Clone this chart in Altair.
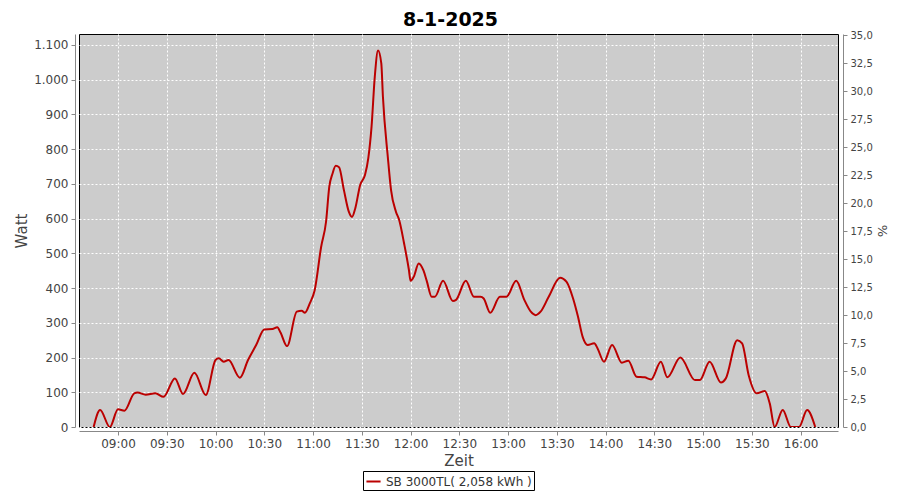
import altair as alt
import pandas as pd

title_text = "8-1-2025"
series_name = "SB 3000TL( 2,058 kWh )"

times = ["08:45", "08:49", "08:55", "09:00", "09:04", "09:10", "09:12", "09:17", "09:23", "09:28",
         "09:35", "09:40", "09:47", "09:54", "10:00", "10:02", "10:05", "10:08", "10:15", "10:20",
         "10:25", "10:30", "10:35", "10:38", "10:40", "10:44", "10:50", "10:53", "10:55", "10:58",
         "11:01", "11:05", "11:08", "11:10", "11:12", "11:14", "11:16", "11:19", "11:22", "11:24",
         "11:26", "11:29", "11:32", "11:34", "11:36", "11:38", "11:40", "11:42", "11:43", "11:46",
         "11:48", "11:51", "11:53", "11:56", "11:59", "12:00", "12:02", "12:05", "12:08", "12:10",
         "12:13", "12:15", "12:20", "12:26", "12:28", "12:34", "12:39", "12:43", "12:45", "12:49",
         "12:55", "12:59", "13:05", "13:10", "13:14", "13:17", "13:20", "13:25", "13:32", "13:36",
         "13:40", "13:43", "13:46", "13:49", "13:53", "13:55", "13:59", "14:04", "14:10", "14:14",
         "14:19", "14:24", "14:28", "14:34", "14:38", "14:46", "14:55", "14:58", "15:04", "15:11",
         "15:14", "15:21", "15:24", "15:28", "15:33", "15:38", "15:41", "15:44", "15:49", "15:54",
         "15:59", "16:04", "16:09"]
watts = [0, 49, 0, 51, 47, 97, 99, 93, 97, 87,
         140, 95, 156, 92, 193, 198, 188, 193, 142, 193,
         236, 281, 282, 287, 272, 233, 332, 335, 329, 356,
         394, 519, 591, 692, 730, 752, 748, 682, 620, 605,
         630, 697, 726, 774, 865, 1009, 1084, 1047, 951, 778,
         682, 620, 596, 529, 452, 421, 433, 471, 450, 420,
         375, 375, 421, 363, 366, 421, 375, 375, 370, 329,
         375, 375, 421, 366, 332, 322, 332, 375, 430, 418,
         370, 318, 258, 236, 241, 227, 188, 236, 185, 191,
         145, 143, 137, 188, 143, 200, 135, 135, 188, 128,
         140, 250, 241, 150, 97, 104, 68, 0, 49, 0,
         0, 49, 0]

x_tick_hours = [(9, 0), (9, 30), (10, 0), (10, 30), (11, 0), (11, 30), (12, 0), (12, 30),
                (13, 0), (13, 30), (14, 0), (14, 30), (15, 0), (15, 30), (16, 0)]
watt_ticks = [0, 100, 200, 300, 400, 500, 600, 700, 800, 900, 1000, 1100]
pct_ticks = [0, 2.5, 5, 7.5, 10, 12.5, 15, 17.5, 20, 22.5, 25, 27.5, 30, 32.5, 35]

df = pd.DataFrame({
    "time": ["2025-01-08T" + t + ":00" for t in times],
    "watt": watts,
    "series": series_name,
})
pct_df = pd.DataFrame({"pct": [0, 35]})


def dt(h, m):
    return alt.DateTime(year=2025, month=1, date=8, hours=h, minutes=m)


FONT = "DejaVu Sans"
LABEL_COLOR = "#444444"
AXIS_COLOR = "#888888"

x_axis = alt.Axis(
    title="Zeit", format="%H:%M", values=[dt(h, m) for h, m in x_tick_hours],
    grid=True, gridColor="white", gridDash=[2, 2], gridWidth=1,
    domainColor=AXIS_COLOR, tickColor=AXIS_COLOR, tickSize=4, offset=4,
    labelFont=FONT, labelFontSize=12, labelColor=LABEL_COLOR, labelPadding=3,
    titleFont=FONT, titleFontSize=15, titleFontWeight="normal", titleColor=LABEL_COLOR,
    titlePadding=4,
)

y_axis = alt.Axis(
    title="Watt", values=watt_ticks,
    labelExpr="replace(format(datum.value, ','), ',', '.')",
    grid=True, gridColor="white", gridDash=[2, 2], gridWidth=1,
    domainColor=AXIS_COLOR, tickColor=AXIS_COLOR, tickSize=4, offset=4,
    labelFont=FONT, labelFontSize=12, labelColor=LABEL_COLOR, labelPadding=3,
    titleFont=FONT, titleFontSize=15, titleFontWeight="normal", titleColor=LABEL_COLOR,
    titlePadding=4,
)

line = alt.Chart(df).mark_line(strokeWidth=2, interpolate="monotone", clip=True).encode(
    x=alt.X("time:T", axis=x_axis, scale=alt.Scale(domain=[dt(8, 36), dt(16, 23)])),
    y=alt.Y("watt:Q", axis=y_axis, scale=alt.Scale(domain=[0, 1131.6], nice=False, zero=True)),
    color=alt.Color(
        "series:N",
        scale=alt.Scale(domain=[series_name], range=["#bb0000"]),
        legend=alt.Legend(
            title=None, orient="none", legendX=284, legendY=437,
            strokeColor="black", fillColor="white", padding=2,
            symbolType="stroke", symbolStrokeWidth=2, symbolSize=200,
            labelFont=FONT, labelFontSize=12, labelColor="#333333",
        ),
    ),
)

pct_axis = alt.Axis(
    title="%", orient="right", values=pct_ticks,
    labelExpr="replace(format(datum.value, '.1f'), '.', ',')",
    grid=False, domainColor=AXIS_COLOR, tickColor=AXIS_COLOR, tickSize=4, offset=5,
    labelFont=FONT, labelFontSize=10, labelColor=LABEL_COLOR, labelPadding=3,
    titleFont=FONT, titleFontSize=13, titleFontWeight="normal", titleColor=LABEL_COLOR,
    titlePadding=2,
)

pct_layer = alt.Chart(pct_df).mark_point(opacity=0).encode(
    y=alt.Y("pct:Q", axis=pct_axis, scale=alt.Scale(domain=[0, 35.09], nice=False)),
)

chart = alt.layer(line, pct_layer).resolve_scale(y="independent").properties(
    width=759, height=393,
    title=alt.TitleParams(title_text, font=FONT, fontSize=19, fontWeight="bold",
                          color="black", anchor="middle", dx=-8, offset=0),
    autosize=alt.AutoSizeParams(type="none"),
    padding={"left": 71, "top": 26, "right": 54, "bottom": 65},
    background="white",
).configure_view(
    fill="#cccccc", stroke="black", strokeWidth=1,
)

chart.save("out.html", embed_options={"renderer": "svg", "actions": False})
